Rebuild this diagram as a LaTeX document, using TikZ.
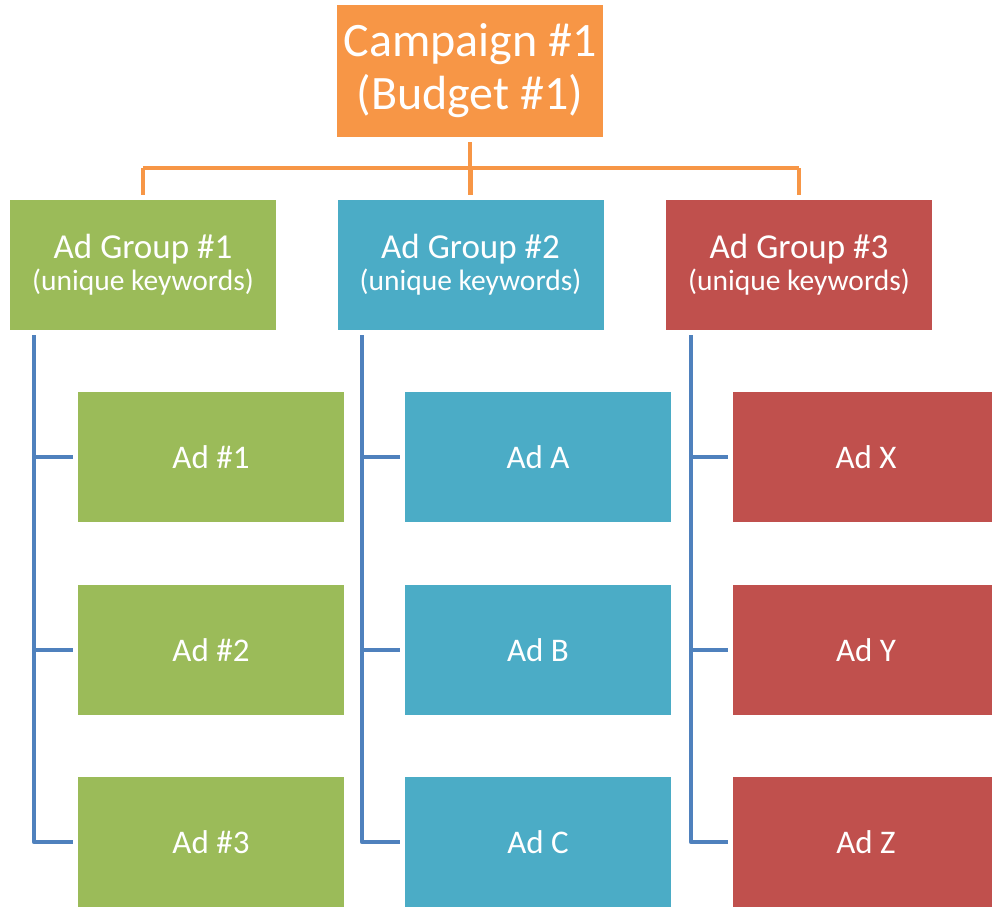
\documentclass[tikz,border=0pt]{standalone}
\usepackage{fontspec}
\setmainfont{Carlito}
\definecolor{campOrange}{HTML}{F79646}
\definecolor{grpGreen}{HTML}{9BBB59}
\definecolor{grpBlue}{HTML}{4BACC6}
\definecolor{grpRed}{HTML}{C0504D}
\definecolor{linkBlue}{HTML}{4F81BD}
\begin{document}
\begin{tikzpicture}[
    x=1pt, y=-1pt,
    box/.style={rectangle, minimum width=266pt, minimum height=130pt, inner sep=0pt,
      outer sep=5pt, text=white, align=center},
    camp/.style={box, fill=campOrange, minimum height=132pt,
      font=\fontsize{48}{53}\selectfont},
    group/.style={box, font=\fontsize{35}{32}\selectfont},
    ad/.style={box, font=\fontsize{33}{40}\selectfont},
    tree/.style={draw=campOrange, line width=4.5pt},
    link/.style={draw=linkBlue, line width=4.5pt, line join=round}
  ]
    \useasboundingbox (0,0) rectangle (992,907);
    \clip (0,0) rectangle (992,907);
    \node[camp] (c) at (470,71) {Campaign \#1\\(Budget \#1)};
    \node[group, fill=grpGreen] (g1) at (143,265) {Ad Group \#1\\{\fontsize{29.5}{32}\selectfont(unique keywords)}};
    \node[group, fill=grpBlue] (g2) at (470.5,265) {Ad Group \#2\\{\fontsize{29.5}{32}\selectfont(unique keywords)}};
    \node[group, fill=grpRed] (g3) at (799,265) {Ad Group \#3\\{\fontsize{29.5}{32}\selectfont(unique keywords)}};
    \node[ad, fill=grpGreen] (a11) at (211,457) {Ad \#1};
    \node[ad, fill=grpGreen] (a12) at (211,650) {Ad \#2};
    \node[ad, fill=grpGreen] (a13) at (211,842) {Ad \#3};
    \node[ad, fill=grpBlue] (a21) at (538,457) {Ad A};
    \node[ad, fill=grpBlue] (a22) at (538,650) {Ad B};
    \node[ad, fill=grpBlue] (a23) at (538,842) {Ad C};
    \node[ad, fill=grpRed] (a31) at (866,457) {Ad X};
    \node[ad, fill=grpRed] (a32) at (866,650) {Ad Y};
    \node[ad, fill=grpRed] (a33) at (866,842) {Ad Z};
    % campaign -> groups
    \coordinate (bus) at (470,168);
    \draw[tree] (c.south) -- (c.south |- bus);
    \draw[tree] (g1.north |- bus) -- (g3.north |- bus);
    \draw[tree] (g1.north |- bus) -- (g1.north);
    \draw[tree] (g2.north |- bus) -- (g2.north);
    \draw[tree] (g3.north |- bus) -- (g3.north);
    % groups -> ads
    \coordinate (t1) at ([xshift=-39pt]a13.west);
    \coordinate (t2) at ([xshift=-38pt]a23.west);
    \coordinate (t3) at ([xshift=-37pt]a33.west);
    \draw[link] (g1.south -| t1) -- (t1) -- (a13.west);
    \draw[link] (a11.west -| t1) -- (a11.west);
    \draw[link] (a12.west -| t1) -- (a12.west);
    \draw[link] (g2.south -| t2) -- (t2) -- (a23.west);
    \draw[link] (a21.west -| t2) -- (a21.west);
    \draw[link] (a22.west -| t2) -- (a22.west);
    \draw[link] (g3.south -| t3) -- (t3) -- (a33.west);
    \draw[link] (a31.west -| t3) -- (a31.west);
    \draw[link] (a32.west -| t3) -- (a32.west);
  \end{tikzpicture}
\end{document}
